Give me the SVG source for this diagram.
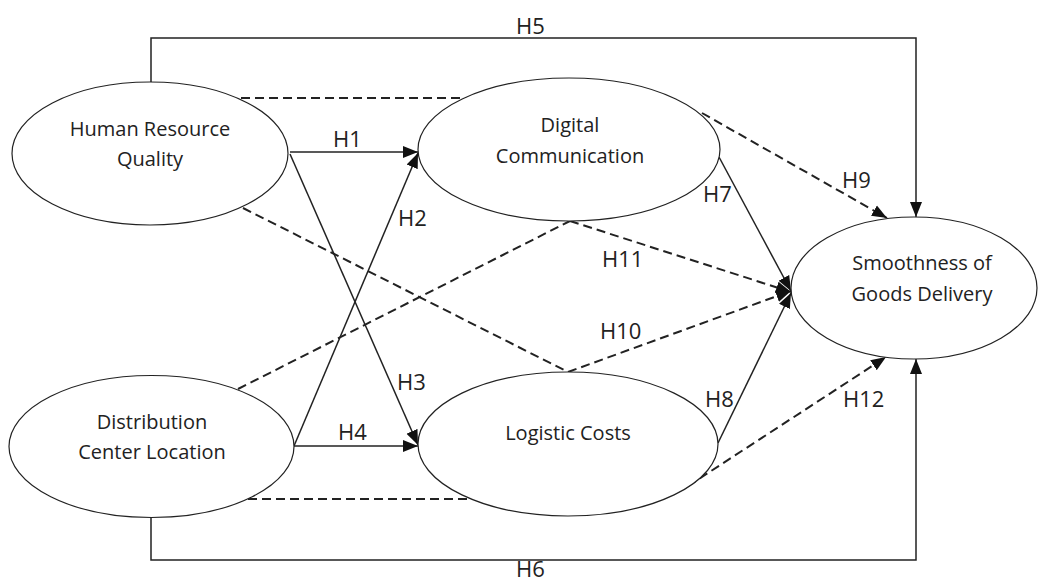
<svg xmlns="http://www.w3.org/2000/svg" width="1042" height="583" viewBox="0 0 1042 583">
<style>
.node ellipse{fill:#fff;stroke:#222;stroke-width:1.2}
.nt{font-family:"Open Sans","Liberation Sans",sans-serif;font-size:20px;fill:#222;text-anchor:middle}
.lbl{font-family:"Open Sans","Liberation Sans",sans-serif;font-size:22px;fill:#222}
.solid{fill:none;stroke:#222;stroke-width:1.5}
.dash{fill:none;stroke:#222;stroke-width:2;stroke-dasharray:9,5}
</style>
<defs>
<marker id="arr" markerUnits="userSpaceOnUse" markerWidth="16" markerHeight="14" viewBox="0 0 16 14" refX="15" refY="7" orient="auto">
<path d="M0,1 L15,7 L0,13 Z" fill="#111"/>
</marker>
</defs>
<rect width="1042" height="583" fill="#fff"/>
<g id="connectors">
<polyline class="solid" points="151,82 151,38 916,38 916,217" marker-end="url(#arr)"/>
<polyline class="solid" points="151,517 151,560 916,560 916,359" marker-end="url(#arr)"/>
<line class="solid" x1="290" y1="152" x2="418" y2="152" marker-end="url(#arr)"/>
<line class="solid" x1="294" y1="446" x2="418" y2="446" marker-end="url(#arr)"/>
<line class="solid" x1="294" y1="446" x2="418" y2="153" marker-end="url(#arr)"/>
<line class="solid" x1="290" y1="154" x2="418" y2="445" marker-end="url(#arr)"/>
<line class="solid" x1="719" y1="157" x2="791" y2="291" marker-end="url(#arr)"/>
<line class="solid" x1="718" y1="443" x2="791" y2="293" marker-end="url(#arr)"/>
<line class="dash" x1="702" y1="113" x2="887" y2="218" marker-end="url(#arr)"/>
<line class="dash" x1="570" y1="221" x2="791" y2="292" marker-end="url(#arr)"/>
<line class="dash" x1="568" y1="372" x2="791" y2="291" marker-end="url(#arr)"/>
<line class="dash" x1="688" y1="486" x2="886" y2="357" marker-end="url(#arr)"/>
<line class="dash" x1="241" y1="98" x2="469" y2="98"/>
<line class="dash" x1="248" y1="499" x2="476" y2="499"/>
<line class="dash" x1="243" y1="208" x2="568" y2="372"/>
<line class="dash" x1="238" y1="389" x2="570" y2="221"/>
</g>
<g id="labels">
<text class="lbl" x="516" y="34">H5</text>
<text class="lbl" x="516" y="577">H6</text>
<text class="lbl" x="333" y="147">H1</text>
<text class="lbl" x="398" y="226">H2</text>
<text class="lbl" x="397" y="390">H3</text>
<text class="lbl" x="338" y="440">H4</text>
<text class="lbl" x="703" y="202">H7</text>
<text class="lbl" x="705" y="407">H8</text>
<text class="lbl" x="842" y="188">H9</text>
<text class="lbl" x="600" y="339">H10</text>
<text class="lbl" x="602" y="267">H11</text>
<text class="lbl" x="843" y="407">H12</text>
</g>
<g id="hrq" class="node">
<ellipse cx="150" cy="153.5" rx="138" ry="71.5"/>
<text class="nt" x="150" y="136">Human Resource</text>
<text class="nt" x="150" y="166">Quality</text>
</g>
<g id="dcl" class="node">
<ellipse cx="151.5" cy="446.5" rx="142.5" ry="71"/>
<text class="nt" x="152" y="429">Distribution</text>
<text class="nt" x="152" y="459">Center Location</text>
</g>
<g id="dc" class="node">
<ellipse cx="569" cy="149.5" rx="151" ry="71.5"/>
<text class="nt" x="570" y="132">Digital</text>
<text class="nt" x="570" y="163">Communication</text>
</g>
<g id="lc" class="node">
<ellipse cx="568" cy="444" rx="150" ry="72"/>
<text class="nt" x="568" y="440">Logistic Costs</text>
</g>
<g id="sgd" class="node">
<ellipse cx="914" cy="288" rx="123" ry="71"/>
<text class="nt" x="922" y="270">Smoothness of</text>
<text class="nt" x="922" y="301">Goods Delivery</text>
</g>
</svg>
